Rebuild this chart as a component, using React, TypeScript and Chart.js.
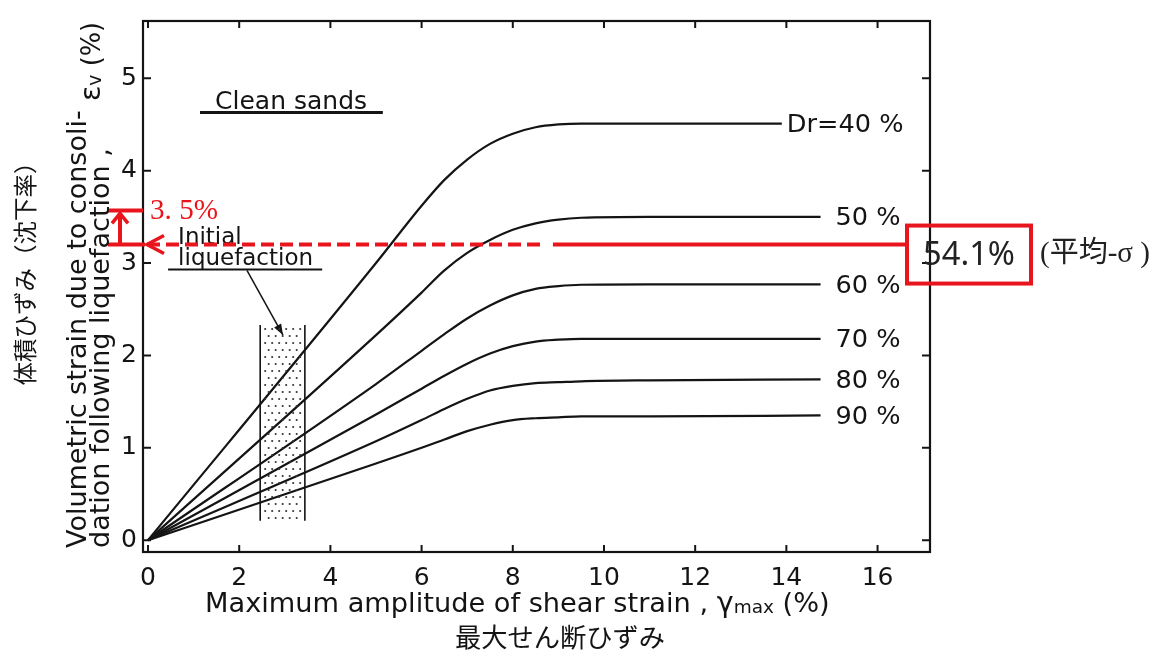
import React, { useEffect, useRef } from "react";
import { Chart, registerables } from "chart.js";

Chart.register(...registerables);

// ---- axis ticks ----
const xTicks = [0, 2, 4, 6, 8, 10, 12, 14, 16];
const yTicks = [0, 1, 2, 3, 4, 5];

// ---- curves (relative density Dr) ----
const curveLabels = ["Dr=40 %", "50 %", "60 %", "70 %", "80 %", "90 %"];

const dr40X = [0, 5, 6, 6.5, 7, 7.5, 8, 8.5, 9, 9.5, 11, 13.9];
const dr40Y = [0, 3.0, 3.62, 3.9, 4.12, 4.29, 4.4, 4.47, 4.5, 4.51, 4.51, 4.51];

const commonX = [0, 5, 6, 6.5, 7, 7.5, 8, 8.5, 9, 9.5, 11, 14.75];
const dr50Y = [0, 2.22, 2.68, 2.92, 3.11, 3.25, 3.36, 3.43, 3.47, 3.49, 3.5, 3.5];
const dr60Y = [0, 1.69, 2.05, 2.23, 2.4, 2.54, 2.65, 2.72, 2.75, 2.765, 2.77, 2.77];
const dr70Y = [0, 1.36, 1.64, 1.78, 1.91, 2.02, 2.1, 2.15, 2.17, 2.18, 2.18, 2.18];
const dr80Y = [0, 1.07, 1.3, 1.42, 1.53, 1.62, 1.67, 1.7, 1.71, 1.72, 1.73, 1.74];
const dr90Y = [0, 0.83, 1.0, 1.09, 1.18, 1.25, 1.3, 1.32, 1.33, 1.34, 1.34, 1.35];

const seriesX = [dr40X, commonX, commonX, commonX, commonX, commonX];
const seriesY = [dr40Y, dr50Y, dr60Y, dr70Y, dr80Y, dr90Y];

// ---- annotations ----
const settlementValue = 3.57; // "3.5%" level
const avgMinusSigmaValue = 3.2; // dashed red level
const settlementText = "3. 5%";
const boxText = "54.1%";
const boxNote = "(平均-σ )";

// initial liquefaction band
const bandX = [2.46, 3.44];
const bandY = [0.21, 2.33];

const RED = "#e8161c";
const INK = "#141414";

function makeData() {
  return seriesX.map((xs, i) => ({
    label: curveLabels[i],
    data: xs.map((x, j) => ({ x, y: seriesY[i][j] })),
    borderColor: INK,
    borderWidth: 2.2,
    pointRadius: 0,
    fill: false,
    cubicInterpolationMode: "monotone" as const,
  }));
}

function fitSize(ctx: CanvasRenderingContext2D, text: string, family: string, target: number, weight = "normal") {
  ctx.font = `${weight} 20px ${family}`;
  const w = ctx.measureText(text).width;
  return (20 * target) / w;
}

const SANS = '"DejaVu Sans", sans-serif';
const JP = '"Noto Sans CJK JP", sans-serif';
const SERIF_JP = '"Liberation Serif", "Noto Sans CJK JP", serif';

const overlay = {
  id: "overlay",
  afterDraw(chart: any) {
    const ctx: CanvasRenderingContext2D = chart.ctx;
    const xs = chart.scales.x;
    const ys = chart.scales.y;
    const a = chart.chartArea;
    const px = (v: number) => xs.getPixelForValue(v);
    const py = (v: number) => ys.getPixelForValue(v);
    ctx.save();

    // frame
    ctx.strokeStyle = INK;
    ctx.lineWidth = 2.2;
    ctx.strokeRect(a.left, a.top, a.right - a.left, a.bottom - a.top);

    // inward ticks
    ctx.lineWidth = 2;
    ctx.beginPath();
    xTicks.forEach((v) => {
      const X = px(v);
      ctx.moveTo(X, a.bottom);
      ctx.lineTo(X, a.bottom - 7);
      ctx.moveTo(X, a.top);
      ctx.lineTo(X, a.top + 7);
    });
    yTicks.forEach((v) => {
      const Y = py(v);
      ctx.moveTo(a.left, Y);
      ctx.lineTo(a.left + 8, Y);
      ctx.moveTo(a.right, Y);
      ctx.lineTo(a.right - 8, Y);
    });
    ctx.stroke();

    // curve labels
    ctx.fillStyle = INK;
    const lblSize = fitSize(ctx, "50 %", SANS, 65);
    ctx.font = `${lblSize}px ${SANS}`;
    ctx.textBaseline = "middle";
    ctx.textAlign = "left";
    seriesX.forEach((xsArr, i) => {
      const lx = xsArr[xsArr.length - 1];
      const ly = seriesY[i][seriesY[i].length - 1];
      const gap = i === 0 ? 5 : 15;
      ctx.fillText(curveLabels[i], px(lx) + gap, py(ly) + 2);
    });

    // Clean sands
    const csSize = fitSize(ctx, "Clean sands", SANS, 152);
    ctx.font = `${csSize}px ${SANS}`;
    ctx.fillText("Clean sands", px(1.47), py(4.74));
    ctx.lineWidth = 3;
    ctx.beginPath();
    ctx.moveTo(px(1.14), py(4.63));
    ctx.lineTo(px(5.15), py(4.63));
    ctx.stroke();

    // Initial liquefaction
    const ilSize = fitSize(ctx, "liquefaction", SANS, 135);
    ctx.font = `${ilSize}px ${SANS}`;
    ctx.fillText("Initial", px(0.66), py(3.27));
    ctx.fillText("liquefaction", px(0.66), py(3.04));
    ctx.lineWidth = 1.8;
    ctx.beginPath();
    ctx.moveTo(px(0.44), py(2.93));
    ctx.lineTo(px(3.82), py(2.93));
    ctx.stroke();
    // arrow to band
    const ax0 = px(2.17), ay0 = py(2.92), ax1 = px(2.96), ay1 = py(2.22);
    ctx.lineWidth = 1.5;
    ctx.beginPath();
    ctx.moveTo(ax0, ay0);
    ctx.lineTo(ax1, ay1);
    ctx.stroke();
    {
      const ang = Math.atan2(ay1 - ay0, ax1 - ax0);
      const L = 11, H = 4;
      ctx.beginPath();
      ctx.moveTo(ax1, ay1);
      ctx.lineTo(ax1 - L * Math.cos(ang) + H * Math.sin(ang), ay1 - L * Math.sin(ang) - H * Math.cos(ang));
      ctx.lineTo(ax1 - L * Math.cos(ang) - H * Math.sin(ang), ay1 - L * Math.sin(ang) + H * Math.cos(ang));
      ctx.closePath();
      ctx.fill();
    }

    // band
    const bx0 = px(bandX[0]), bx1 = px(bandX[1]);
    const by0 = py(bandY[1]), by1 = py(bandY[0]);
    ctx.lineWidth = 1.6;
    ctx.beginPath();
    ctx.moveTo(bx0, by0);
    ctx.lineTo(bx0, by1);
    ctx.moveTo(bx1, by0);
    ctx.lineTo(bx1, by1);
    ctx.stroke();
    ctx.fillStyle = "#333";
    let row = 0;
    for (let yy = by0 + 4; yy < by1 - 2; yy += 7, row++) {
      const off = row % 2 ? 3.5 : 0;
      for (let xx = bx0 + 5 + off; xx < bx1 - 3; xx += 7) {
        ctx.beginPath();
        ctx.arc(xx, yy, 1.05, 0, Math.PI * 2);
        ctx.fill();
      }
    }

    // ---- red annotations ----
    const yS = py(settlementValue);
    const yA = py(avgMinusSigmaValue);
    ctx.strokeStyle = RED;
    ctx.fillStyle = RED;
    ctx.lineWidth = 4;
    ctx.lineCap = "butt";
    ctx.beginPath();
    ctx.moveTo(a.left - 35, yS);
    ctx.lineTo(a.left, yS);
    ctx.moveTo(a.left - 35, yA);
    ctx.lineTo(a.left + 2, yA);
    ctx.stroke();
    const vx = a.left - 23;
    ctx.beginPath();
    ctx.moveTo(vx, yA);
    ctx.lineTo(vx, yS + 3);
    ctx.stroke();
    ctx.lineWidth = 3.5;
    ctx.beginPath();
    ctx.moveTo(vx - 8, yS + 13);
    ctx.lineTo(vx, yS + 3);
    ctx.lineTo(vx + 8, yS + 13);
    ctx.stroke();
    const tipX = a.left + 4;
    ctx.beginPath();
    ctx.moveTo(tipX + 17, yA - 9);
    ctx.lineTo(tipX, yA);
    ctx.lineTo(tipX + 17, yA + 9);
    ctx.stroke();
    ctx.lineWidth = 4;
    ctx.setLineDash([13, 6]);
    ctx.beginPath();
    ctx.moveTo(tipX, yA);
    ctx.lineTo(px(8.7), yA);
    ctx.stroke();
    ctx.setLineDash([]);
    const boxL = a.right - 23, boxT = yA - 19, boxW = 124, boxH = 58;
    ctx.beginPath();
    ctx.moveTo(px(8.88), yA);
    ctx.lineTo(boxL, yA);
    ctx.stroke();
    ctx.strokeRect(boxL, boxT, boxW, boxH);

    const stSize = fitSize(ctx, settlementText, '"Liberation Serif", serif', 68);
    ctx.font = `${stSize}px "Liberation Serif", serif`;
    ctx.textBaseline = "middle";
    ctx.fillText(settlementText, a.left + 7, yS + 1);

    ctx.fillStyle = "#222";
    const bSize = fitSize(ctx, boxText, '"Noto Sans", sans-serif', 92);
    ctx.font = `${bSize}px "Noto Sans", sans-serif`;
    ctx.textAlign = "center";
    ctx.fillText(boxText, boxL + boxW / 2, boxT + boxH / 2 + 1);
    ctx.textAlign = "left";
    const nSize = fitSize(ctx, boxNote, SERIF_JP, 110);
    ctx.font = `${nSize}px ${SERIF_JP}`;
    ctx.fillText(boxNote, boxL + boxW + 9, boxT + boxH / 2);

    // ---- axis titles ----
    ctx.fillStyle = INK;
    const segs = [
      { t: "Maximum amplitude of shear strain , ", k: 1, dy: 0 },
      { t: "γ", k: 1.05, dy: 0 },
      { t: "max", k: 0.68, dy: 3 },
      { t: " (%)", k: 1, dy: 0 },
    ];
    const base = 20;
    let total = 0;
    segs.forEach((s) => {
      ctx.font = `${base * s.k}px ${SANS}`;
      total += ctx.measureText(s.t).width;
    });
    const xtSize = (base * 625) / total;
    let cx = 205;
    const xty = 605;
    segs.forEach((s) => {
      ctx.font = `${xtSize * s.k}px ${SANS}`;
      ctx.fillText(s.t, cx, xty + s.dy);
      cx += ctx.measureText(s.t).width;
    });
    const jxSize = fitSize(ctx, "最大せん断ひずみ", JP, 210);
    ctx.font = `${jxSize}px ${JP}`;
    ctx.textAlign = "center";
    ctx.fillText("最大せん断ひずみ", 560, 637);

    const l1 = "Volumetric strain due to consoli-";
    const l2 = "dation following liquefaction ,";
    const ySize = fitSize(ctx, l1, SANS, 438);
    ctx.save();
    ctx.translate(79, 548);
    ctx.rotate(-Math.PI / 2);
    ctx.textAlign = "left";
    ctx.font = `${ySize}px ${SANS}`;
    ctx.fillText(l1, 0, 0);
    ctx.restore();
    ctx.save();
    ctx.translate(102, 548);
    ctx.rotate(-Math.PI / 2);
    ctx.textAlign = "left";
    ctx.font = `${ySize}px ${SANS}`;
    ctx.fillText(l2, 0, 0);
    ctx.restore();
    // εv (%)
    const eSegs = [
      { t: "ε", k: 1.05, dy: 0 },
      { t: "v", k: 0.7, dy: 3 },
      { t: " (%)", k: 0.95, dy: 0 },
    ];
    ctx.save();
    ctx.translate(93, 101);
    ctx.rotate(-Math.PI / 2);
    ctx.textAlign = "left";
    let ex = 0;
    eSegs.forEach((s) => {
      ctx.font = `${ySize * s.k}px ${SANS}`;
      ctx.fillText(s.t, ex, s.dy);
      ex += ctx.measureText(s.t).width;
    });
    ctx.restore();
    const jy = "体積ひずみ（沈下率）";
    const jySize = fitSize(ctx, jy, JP, 235);
    ctx.save();
    ctx.translate(25, 268);
    ctx.rotate(-Math.PI / 2);
    ctx.textAlign = "center";
    ctx.font = `${jySize}px ${JP}`;
    ctx.fillText(jy, 0, 0);
    ctx.restore();

    ctx.restore();
  },
};

export default function App() {
  const ref = useRef<HTMLCanvasElement>(null);
  useEffect(() => {
    if (!ref.current) return;
    const chart = new Chart(ref.current, {
      type: "line",
      data: { datasets: makeData() as any },
      options: {
        responsive: false,
        animation: false,
        layout: { padding: { left: 0, top: 14, right: 231, bottom: 0 } },
        plugins: { legend: { display: false }, tooltip: { enabled: false } },
        scales: {
          x: {
            type: "linear",
            min: -0.11,
            max: 17.15,
            grid: { display: false, drawTicks: false },
            border: { display: false },
            afterBuildTicks: (s: any) => {
              s.ticks = xTicks.map((v) => ({ value: v }));
            },
            afterFit: (s: any) => {
              s.height = 101;
            },
            ticks: {
              font: { family: "DejaVu Sans", size: 25 },
              color: INK,
              padding: 11,
              maxRotation: 0,
              autoSkip: false,
            },
          },
          y: {
            type: "linear",
            min: -0.128,
            max: 5.62,
            grid: { display: false, drawTicks: false },
            border: { display: false },
            afterBuildTicks: (s: any) => {
              s.ticks = yTicks.map((v) => ({ value: v }));
            },
            afterFit: (s: any) => {
              s.width = 143;
            },
            ticks: {
              font: { family: "DejaVu Sans", size: 25 },
              color: INK,
              padding: 6,
              autoSkip: false,
            },
          },
        },
      },
      plugins: [overlay],
    });
    return () => chart.destroy();
  }, []);
  return (
    <div style={{ position: "fixed", left: 0, top: 0, width: 1161, height: 653, background: "#fff" }}>
      <canvas ref={ref} width={1161} height={653} style={{ display: "block", width: 1161, height: 653 }} />
    </div>
  );
}
